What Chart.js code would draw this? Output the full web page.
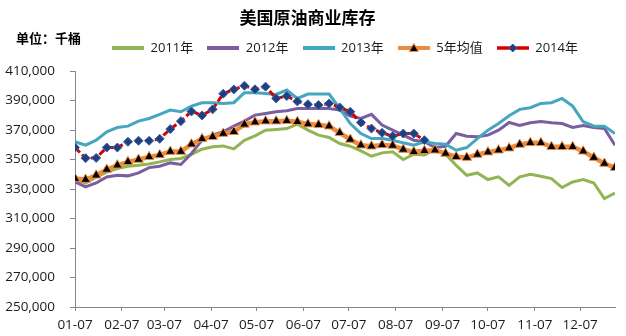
<!DOCTYPE html>
<html>
<head>
<meta charset="utf-8">
<script src="https://cdn.jsdelivr.net/npm/chart.js@4/dist/chart.umd.min.js"></script>
<style>
  html, body { margin: 0; padding: 0; background: #fff; }
  #wrap { width: 626px; height: 336px; }
</style>
</head>
<body>
<div id="wrap"><canvas id="c" width="626" height="336"></canvas></div>
<script>
// Weekly report dates (month-day), one per data point
const weekDates = [
  '01-07','01-14','01-21','01-28','02-04','02-11','02-18','02-25',
  '03-04','03-11','03-18','03-25','04-01','04-08','04-15','04-22','04-29',
  '05-06','05-13','05-20','05-27','06-03','06-10','06-17','06-24',
  '07-01','07-08','07-15','07-22','07-29','08-05','08-12','08-19','08-26',
  '09-02','09-09','09-16','09-23','09-30','10-07','10-14','10-21','10-28',
  '11-04','11-11','11-18','11-25','12-02','12-09','12-16','12-23','12-30'
];

// Axis tick labels (7th of each month)
const monthTicks = ['01-07','02-07','03-07','04-07','05-07','06-07','07-07','08-07','09-07','10-07','11-07','12-07'];

// Commercial crude inventories, thousand barrels
const stocks2011 = [
  336500,334000,338000,341500,343900,345400,346100,347000,348400,350000,350700,353500,357000,
  358600,359200,357200,363000,366000,369900,370400,371000,374000,369900,366500,364900,360800,
  359000,355900,352200,354500,355200,350000,353600,353000,356800,353500,346000,339300,340900,
  336400,338200,332500,338200,340000,338600,337100,331000,334800,336400,334100,323500,327300
];
const stocks2012 = [
  334800,331400,334100,338200,339300,338900,340900,344500,345400,347700,346600,354100,363100,
  366500,368800,372600,376000,380100,381200,382400,383000,384600,384600,384600,384600,383500,
  379400,377800,380600,373300,369900,366500,363100,362000,358100,359000,367600,365800,365400,
  366500,369900,375100,373100,374900,375800,374900,374400,371700,373100,371700,371000,359700
];
const stocks2013 = [
  362000,359700,363100,368800,371700,372600,376000,377800,380600,383500,382400,386200,388500,
  388500,388000,388500,395300,395300,394800,394100,397100,391400,394400,394400,394400,384600,
  374400,367600,364200,364200,363100,361300,359700,362000,360800,360400,356300,358100,364200,
  369900,374400,379600,384000,385100,388000,388500,391400,386200,375600,372600,372600,367600
];
const stocksAvg5 = [
  337100,336400,339300,343200,346100,348400,350000,351800,353100,355400,355400,360400,364000,
  365400,367600,368800,373800,375300,376000,376000,376300,375600,374000,373500,372600,368100,
  363600,359700,359000,359900,359500,356800,355200,355900,356300,354100,351800,351300,353400,
  355000,356300,357700,360200,361300,361300,358600,358600,358600,355600,351300,347300,344500
];
const stocks2014 = [
  358100,350900,351100,358100,358100,362000,362700,362700,364000,370600,376000,382600,379900,
  384000,394600,397500,400000,397600,399400,391400,393000,389400,387400,386900,388000,385300,
  382400,375100,371000,368100,365800,367600,367600,363100
];

const seriesNames = ['2011年', '2012年', '2013年', '5年均值', '2014年'];

const GREEN = '#92B553', PURPLE = '#7B5EA1', TEAL = '#45A6C0', ORANGE = '#EF8B3D';
const RED = '#D40000', NAVY = '#1F3F7F', NAVY_EDGE = '#3A62A8';
const AXIS = '#868686';
const LATIN = '"Open Sans", "Noto Sans CJK SC", sans-serif';
const CJK = '"Noto Sans CJK SC", sans-serif';

// Days elapsed since the first report date
function dayOffset(md) {
  const [m, d] = md.split('-').map(Number);
  return (Date.UTC(2011, m - 1, d) - Date.UTC(2011, 0, 7)) / 86400000;
}
const weekX = weekDates.map(dayOffset);
const tickX = monthTicks.map(dayOffset);
const toPoints = vals => vals.map((v, i) => ({ x: weekX[i], y: v }));

// Small line-with-marker swatches for the legend
function legendIcon(color, lineW, marker) {
  const c = document.createElement('canvas');
  c.width = 32; c.height = 12;
  const g = c.getContext('2d');
  g.strokeStyle = color; g.lineWidth = lineW;
  g.beginPath(); g.moveTo(0, 6); g.lineTo(32, 6); g.stroke();
  if (marker === 'triangle') {
    g.fillStyle = '#000'; g.strokeStyle = ORANGE; g.lineWidth = 1;
    g.beginPath(); g.moveTo(16, 1.5); g.lineTo(20.5, 9.5); g.lineTo(11.5, 9.5); g.closePath();
    g.fill(); g.stroke();
  } else if (marker === 'diamond') {
    g.fillStyle = NAVY; g.strokeStyle = NAVY_EDGE; g.lineWidth = 1;
    g.beginPath(); g.moveTo(16, 2); g.lineTo(20, 6); g.lineTo(16, 10); g.lineTo(12, 6); g.closePath();
    g.fill(); g.stroke();
  }
  return c;
}
const legendIcons = [
  legendIcon(GREEN, 4),
  legendIcon(PURPLE, 4),
  legendIcon(TEAL, 4),
  legendIcon(ORANGE, 4, 'triangle'),
  legendIcon(RED, 3.5, 'diamond')
];

// Unit caption in the upper-left corner
const unitCaption = {
  id: 'unitCaption',
  afterDraw(chart) {
    const ctx = chart.ctx;
    ctx.save();
    ctx.font = 'bold 13px ' + CJK;
    ctx.fillStyle = '#000';
    ctx.textAlign = 'left';
    ctx.textBaseline = 'middle';
    ctx.fillText('单位：千桶', 16, 38);
    ctx.restore();
  }
};

// Leave some room between the legend row and the plot
const legendGap = {
  id: 'legendGap',
  afterInit(chart) {
    const lg = chart.legend;
    if (!lg) return;
    const fit = lg.fit;
    lg.fit = function () { fit.call(this); this.height += 6.5; };
  }
};

const lineBase = { tension: 0, pointRadius: 0, pointHoverRadius: 0, borderWidth: 3, fill: false };

new Chart(document.getElementById('c'), {
  type: 'line',
  data: {
    datasets: [
      Object.assign({}, lineBase, { label: seriesNames[0], data: toPoints(stocks2011), borderColor: GREEN, order: 5 }),
      Object.assign({}, lineBase, { label: seriesNames[1], data: toPoints(stocks2012), borderColor: PURPLE, order: 4 }),
      Object.assign({}, lineBase, { label: seriesNames[2], data: toPoints(stocks2013), borderColor: TEAL, order: 3 }),
      Object.assign({}, lineBase, {
        label: seriesNames[3], data: toPoints(stocksAvg5), borderColor: ORANGE, borderWidth: 4.5, order: 2,
        pointStyle: 'triangle', pointRadius: 5.5, pointBackgroundColor: '#000',
        pointBorderColor: ORANGE, pointBorderWidth: 1
      }),
      Object.assign({}, lineBase, {
        label: seriesNames[4], data: toPoints(stocks2014), borderColor: RED, borderWidth: 3,
        borderDash: [7, 3], order: 1,
        pointStyle: 'rectRot', pointRadius: 4.5, pointBackgroundColor: NAVY,
        pointBorderColor: NAVY_EDGE, pointBorderWidth: 1
      })
    ]
  },
  options: {
    responsive: false,
    animation: false,
    devicePixelRatio: 1,
    locale: 'en-US',
    layout: { padding: { left: 0, right: 11, top: 0, bottom: 0 } },
    plugins: {
      title: {
        display: true,
        text: '美国原油商业库存',
        color: '#000',
        font: { family: CJK, size: 17, weight: 'bold', lineHeight: 1 },
        padding: { top: 9, bottom: 1.5 }
      },
      legend: {
        display: true,
        position: 'top',
        fullSize: false,
        labels: {
          usePointStyle: true,
          pointStyleWidth: 32,
          padding: 14,
          color: '#1a1a1a',
          font: { family: LATIN, size: 13 },
          sort: (a, b) => a.datasetIndex - b.datasetIndex,
          generateLabels(chart) {
            const items = Chart.defaults.plugins.legend.labels.generateLabels(chart);
            items.forEach(it => { it.pointStyle = legendIcons[it.datasetIndex]; });
            return items;
          }
        }
      },
      tooltip: { enabled: false }
    },
    scales: {
      x: {
        type: 'linear',
        min: weekX[0],
        max: weekX[weekX.length - 1],
        afterBuildTicks(scale) { scale.ticks = tickX.map(v => ({ value: v })); },
        afterFit(scale) { scale.height = 29; },
        ticks: {
          autoSkip: false, maxRotation: 0, minRotation: 0,
          padding: 6,
          color: '#1a1a1a',
          font: { family: LATIN, size: 13.5 },
          callback: (v, i) => monthTicks[i]
        },
        grid: { display: true, drawOnChartArea: false, drawTicks: true, tickLength: 4, color: AXIS },
        border: { display: true, color: AXIS, width: 1 }
      },
      y: {
        min: 250000,
        max: 410000,
        afterFit(scale) { scale.width = 75; },
        ticks: {
          stepSize: 20000,
          padding: 15,
          color: '#1a1a1a',
          font: { family: LATIN, size: 13.5 }
        },
        grid: { display: true, drawOnChartArea: false, drawTicks: true, tickLength: 5, color: AXIS },
        border: { display: true, color: AXIS, width: 1 }
      }
    }
  },
  plugins: [unitCaption, legendGap]
});
</script>
</body>
</html>
